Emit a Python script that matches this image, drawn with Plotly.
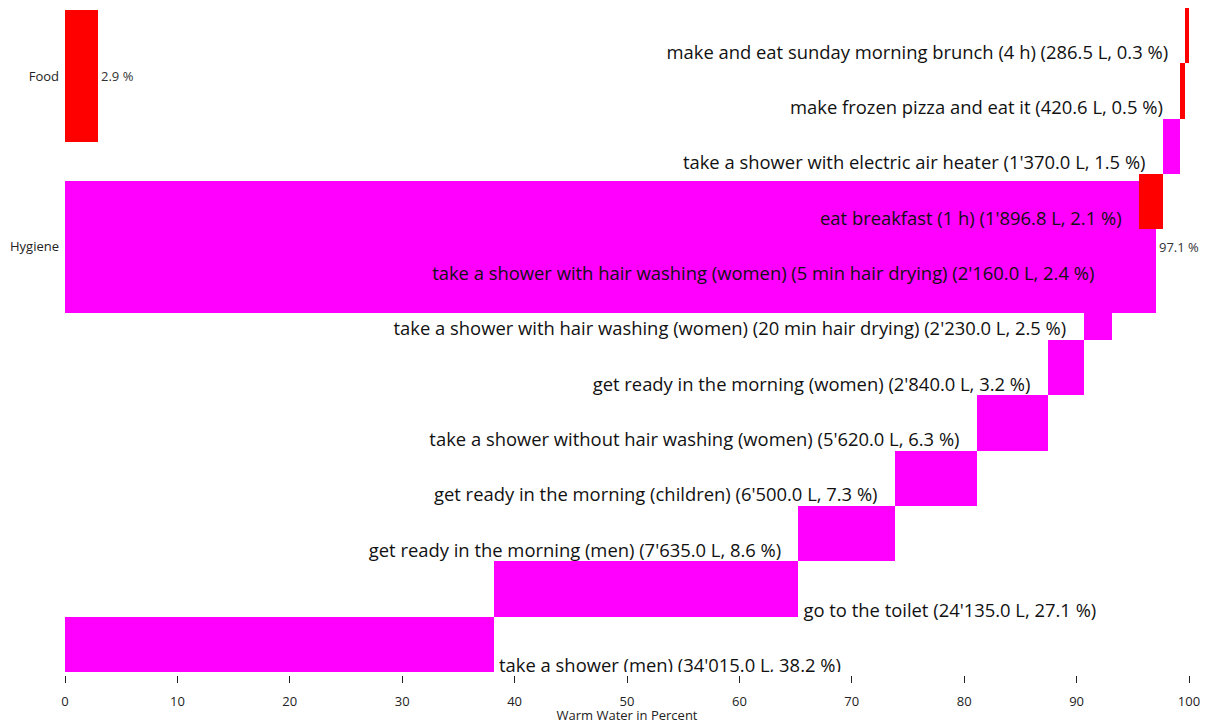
import plotly.graph_objects as go

# ---- data ----
activities = [
    "take a shower (men)",
    "go to the toilet",
    "get ready in the morning (men)",
    "get ready in the morning (children)",
    "take a shower without hair washing (women)",
    "get ready in the morning (women)",
    "take a shower with hair washing (women) (20 min hair drying)",
    "take a shower with hair washing (women) (5 min hair drying)",
    "eat breakfast (1 h)",
    "take a shower with electric air heater",
    "make frozen pizza and eat it",
    "make and eat sunday morning brunch (4 h)",
]
liters = [34015.0, 24135.0, 7635.0, 6500.0, 5620.0, 2840.0, 2230.0, 2160.0,
          1896.8, 1370.0, 420.6, 286.5]
activity_category = ["Hygiene", "Hygiene", "Hygiene", "Hygiene", "Hygiene", "Hygiene",
                     "Hygiene", "Hygiene", "Food", "Hygiene", "Food", "Food"]
categories = ["Food", "Hygiene"]
category_colors = {"Food": "#FF0000", "Hygiene": "#FF00FF"}
x_ticks = [0, 10, 20, 30, 40, 50, 60, 70, 80, 90, 100]

# ---- derived ----
total = sum(liters)
pct = [v / total * 100 for v in liters]
bases = []
acc = 0.0
for p in pct:
    bases.append(acc)
    acc += p
cat_pct = [sum(p for p, c in zip(pct, activity_category) if c == cat) for cat in categories]
rows = list(range(len(activities)))


def fmt_l(v):
    return f"{v:,.1f}".replace(",", "'")


labels = [f"{a} ({fmt_l(v)} L, {p:.1f} %)" for a, v, p in zip(activities, liters, pct)]

FONT = "Open Sans, Noto Sans, sans-serif"
LABEL_SIZE = 18.4

fig = go.Figure()

# category summary bars (lower layer)
fig.add_trace(go.Bar(
    y=categories, x=cat_pct, orientation="h", width=0.772,
    marker=dict(color=[category_colors[c] for c in categories], line=dict(width=0)),
    text=[f"{p:.1f} %" for p in cat_pct], textposition="outside",
    textfont=dict(size=13, color="#333", family=FONT),
    cliponaxis=False, xaxis="x", yaxis="y", showlegend=False,
))

# activity cascade bars (upper layer)
fig.add_trace(go.Bar(
    y=rows, x=pct, base=bases, orientation="h", width=1.0,
    marker=dict(color=[category_colors[c] for c in activity_category], line=dict(width=0)),
    xaxis="x", yaxis="y2", showlegend=False,
))

# labels: the two largest to the right of their bar, others to the left
right_idx = [i for i in rows if i < 2]
left_idx = [i for i in rows if i >= 2]

fig.add_trace(go.Scatter(
    x=[bases[i] + pct[i] for i in right_idx], y=[rows[i] - 0.416 for i in right_idx],
    mode="markers+text", marker=dict(size=6.4, opacity=0),
    text=[labels[i] for i in right_idx], textposition="middle right",
    textfont=dict(size=LABEL_SIZE, color="#111", family=FONT),
    cliponaxis=True, xaxis="x", yaxis="y2", showlegend=False, hoverinfo="skip",
))
fig.add_trace(go.Scatter(
    x=[bases[i] for i in left_idx], y=[rows[i] - 0.335 for i in left_idx],
    mode="markers+text", marker=dict(size=26, opacity=0),
    text=[labels[i] for i in left_idx], textposition="middle left",
    textfont=dict(size=LABEL_SIZE, color="#111", family=FONT),
    cliponaxis=True, xaxis="x", yaxis="y2", showlegend=False, hoverinfo="skip",
))

fig.update_layout(
    width=1214, height=724,
    margin=dict(l=65, r=25, t=8, b=49, autoexpand=False),
    paper_bgcolor="white", plot_bgcolor="white",
    font=dict(family=FONT, size=13, color="#222"),
    xaxis=dict(
        range=[0, 100], tickvals=x_ticks, automargin=False,
        showgrid=False, zeroline=False, showline=False,
        ticks="outside", ticklen=7, tickcolor="#222", tickwidth=1,
        anchor="free", position=0, ticklabelstandoff=7,
        title=dict(text="Warm Water in Percent", font=dict(size=13), standoff=4),
        tickfont=dict(size=13),
    ),
    yaxis=dict(
        type="category", categoryarray=categories, range=[3.491, -0.398],
        domain=[0.0045, 1], automargin=False,
        showgrid=False, zeroline=False, showline=False, ticks="",
        tickfont=dict(size=13), ticklabelstandoff=5,
    ),
    yaxis2=dict(
        overlaying="y", range=[-0.5, 11.5], domain=[0.0045, 1],
        visible=False, showgrid=False, zeroline=False, automargin=False,
    ),
    bargap=0,
)

fig.write_html("out.html", config={"displayModeBar": False},
               post_script="document.body.style.margin='0px';")
